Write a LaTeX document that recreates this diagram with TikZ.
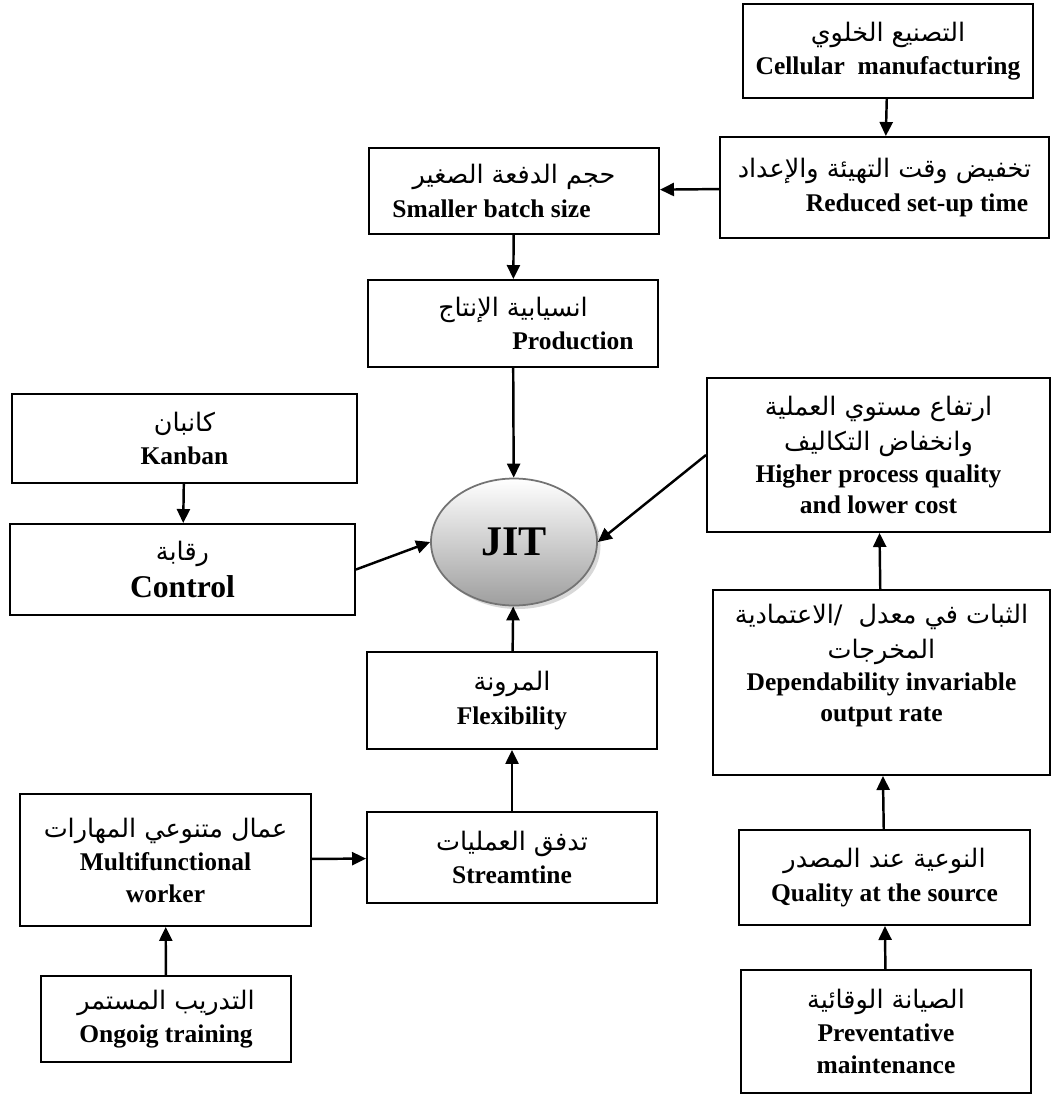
\documentclass[tikz,border=0pt]{standalone}
\usepackage{fontspec}
\setmainfont{Liberation Serif}
\newfontfamily\arabicfont[Script=Arabic]{DejaVu Sans}
\TeXXeTstate=1
\usepackage{tikz}
\usetikzlibrary{arrows.meta, shapes.geometric, shadows}
\newcommand{\artext}[1]{{\mdseries\arabicfont\fontsize{14.5}{18}\selectfont\beginR #1\endR}}

\begin{document}
\begin{tikzpicture}[
        every node/.style={draw, line width=1.1pt, align=center, inner sep=2pt, font=\bfseries\fontsize{14.5}{18}\selectfont},
        jitnode/.style={ellipse, draw=black!55, line width=1pt, top color=white, bottom color=black!38,
            drop shadow={shadow xshift=2pt, shadow yshift=-2pt, fill=black!30}},
        arrow/.style={-{Triangle[length=0.28cm, width=0.26cm]}, line width=1.4pt}
    ]
        \useasboundingbox (0,0) rectangle (21.02,-21.9);
        % Nodes
        \node (cellular) at (17.76,-1.02) [minimum width=5.8cm, minimum height=1.88cm] {\artext{التصنيع الخلوي}\\[1pt] Cellular\ \ manufacturing};
        \node (reduced) at (17.69,-3.75) [minimum width=6.58cm, minimum height=2.02cm] {\artext{تخفيض وقت التهيئة والإعداد}\\[1pt] \hspace*{1.3cm}Reduced set-up time};
        \node (batch) at (10.28,-3.82) [minimum width=5.8cm, minimum height=1.72cm] {\artext{حجم الدفعة الصغير}\\[1pt] Smaller batch size\hspace*{0.9cm}};
        \node (production) at (10.26,-6.47) [minimum width=5.8cm, minimum height=1.74cm] {\artext{انسيابية الإنتاج}\\[1pt] \hspace*{2.4cm}Production};
        \node (kanban) at (3.69,-8.77) [minimum width=6.9cm, minimum height=1.78cm] {\artext{كانبان}\\[1pt] Kanban};
        \node (control) at (3.65,-11.39) [minimum width=6.9cm, minimum height=1.82cm] {\artext{رقابة}\\[3pt] {\fontsize{18}{20}\selectfont Control}};
        \node (jit) at (10.28,-10.84) [jitnode, minimum width=3.32cm, minimum height=2.54cm, inner sep=0pt] {\fontsize{24}{28}\selectfont JIT};
        \node (quality) at (17.57,-9.1) [minimum width=6.86cm, minimum height=3.08cm] {\artext{ارتفاع مستوي العملية}\\[2pt] \artext{وانخفاض التكاليف}\\ Higher process quality\\ and lower cost};
        \node (dependability) at (17.63,-13.65) [minimum width=6.74cm, minimum height=3.7cm] {\artext{الثبات في معدل\ \ /\kern0pt الاعتمادية}\\[2pt] \artext{المخرجات}\\ Dependability invariable\\ output rate\\[0.15cm]};
        \node (flexibility) at (10.24,-14.01) [minimum width=5.8cm, minimum height=1.94cm] {\artext{المرونة}\\[1pt] Flexibility};
        \node (streamline) at (10.24,-17.15) [minimum width=5.8cm, minimum height=1.82cm] {\artext{تدفق العمليات}\\[1pt] Streamtine};
        \node (worker) at (3.31,-17.2) [minimum width=5.82cm, minimum height=2.64cm] {\artext{عمال متنوعي المهارات}\\[1pt] Multifunctional\\ worker};
        \node (training) at (3.32,-20.38) [minimum width=5.0cm, minimum height=1.72cm] {\artext{التدريب المستمر}\\[1pt] Ongoig training};
        \node (source) at (17.69,-17.55) [minimum width=5.82cm, minimum height=1.9cm] {\artext{النوعية عند المصدر}\\[1pt] Quality at the source};
        \node (maintenance) at (17.72,-20.63) [minimum width=5.8cm, minimum height=2.46cm] {\artext{الصيانة الوقائية}\\[1pt] Preventative\\ maintenance};

        % Connectors
        \draw[arrow] (cellular) -- (reduced);
        \draw[arrow] (reduced) -- (batch);
        \draw[arrow] (batch) -- (production);
        \draw[arrow] (production) -- (jit);
        \draw[arrow] (kanban) -- (control);
        \draw[arrow] (control.east) -- (jit.west);
        \draw[arrow] (quality.west) -- (jit.east);
        \draw[arrow] (dependability) -- (quality);
        \draw[arrow] (source) -- (dependability);
        \draw[arrow] (maintenance) -- (source);
        \draw[arrow] (flexibility) -- (jit);
        \draw[arrow] (streamline) -- (flexibility);
        \draw[arrow] (worker) -- (streamline);
        \draw[arrow] (training) -- (worker);
    \end{tikzpicture}
\end{document}
